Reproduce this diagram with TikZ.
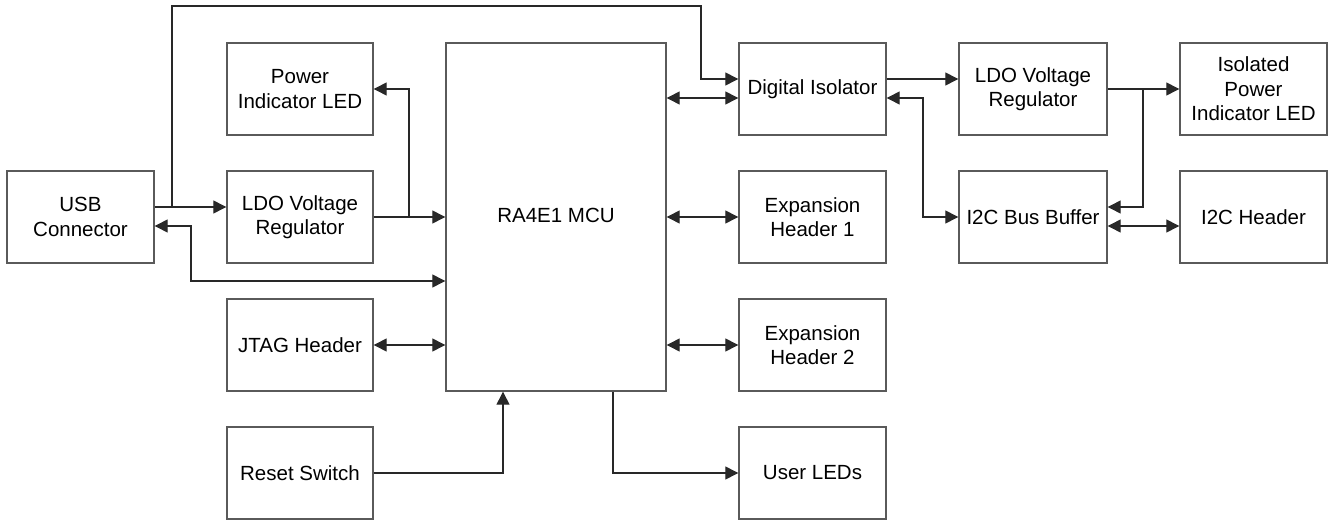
\documentclass[tikz,border=0pt]{standalone}
\usepackage{fontspec}
\setmainfont{Liberation Sans}
\usetikzlibrary{arrows.meta}
\definecolor{boxline}{RGB}{90,90,90}
\definecolor{wire}{RGB}{40,40,40}
\begin{document}
\begin{tikzpicture}[x=1pt,y=-1pt,
  blk/.style={draw=boxline,line width=1.4pt,fill=white,minimum width=147pt,minimum height=92pt,align=center,inner sep=2pt,font=\fontsize{20.5}{24.5}\selectfont},
  wr/.style={draw=wire,line width=1.3pt},
  tip/.tip={Triangle[length=13pt,width=13pt]},
  ar/.style={wr,-tip},
  dar/.style={wr,tip-tip}]
\useasboundingbox (0,0) rectangle (1328,521);
% nodes
\node[blk] (usb) at (80.5,217) {USB\\Connector};
\node[blk,minimum width=146pt] (pled) at (300,89) {Power\\Indicator LED};
\node[blk,minimum width=146pt] (ldo1) at (300,217) {LDO Voltage\\Regulator};
\node[blk,minimum width=146pt] (jtag) at (300,345) {JTAG Header};
\node[blk,minimum width=146pt] (reset) at (300,473) {Reset Switch};
\node[blk,minimum width=220pt,minimum height=348pt] (mcu) at (556,217) {};
\node[font=\fontsize{20.5}{24.5}\selectfont] (mcul) at (556,215) {RA4E1 MCU};
\node[blk] (diso) at (812.5,89) {Digital Isolator};
\node[blk] (exp1) at (812.5,217) {Expansion\\Header 1};
\node[blk] (exp2) at (812.5,345) {Expansion\\Header 2};
\node[blk] (leds) at (812.5,473) {User LEDs};
\node[blk,minimum width=148pt] (ldo2) at (1033,89) {LDO Voltage\\Regulator};
\node[blk,minimum width=148pt] (i2cb) at (1033,217) {I2C Bus Buffer};
\node[blk] (iled) at (1253.5,89) {Isolated\\Power\\Indicator LED};
\node[blk] (i2ch) at (1253.5,217) {I2C Header};
% junction coordinates
\coordinate (j1) at (172,207);
\coordinate (j2) at (409,217);
\coordinate (j3) at (1143,89);
% connectors
\draw[ar] (usb.east |- j1) -- (ldo1.west |- j1);
\draw[ar] (j1) |- (701,6) |- (diso.west |- 0,79);
\draw[ar] (ldo1.east) -- (mcu.west |- ldo1.east);
\draw[ar] (j2) |- (pled.east);
\draw[dar] (mcu.west |- 0,281) -| (191,226) -- (usb.east |- 0,226);
\draw[dar] (mcu.east |- 0,98) -- (diso.west |- 0,98);
\draw[ar] (diso.east |- 0,79) -- (ldo2.west |- 0,79);
\draw[dar] (diso.east |- 0,98) -| (923,217) -- (i2cb.west);
\draw[ar] (ldo2.east) -- (iled.west);
\draw[ar] (j3) |- (i2cb.east |- 0,207);
\draw[dar] (i2cb.east |- 0,226) -- (i2ch.west |- 0,226);
\draw[dar] (mcu.east |- exp1.west) -- (exp1.west);
\draw[dar] (jtag.east) -- (mcu.west |- jtag.east);
\draw[dar] (mcu.east |- exp2.west) -- (exp2.west);
\draw[ar] (reset.east) -| (mcu.south -| 503,0);
\draw[ar] (mcu.south -| 613,0) |- (leds.west);
\end{tikzpicture}
\end{document}
